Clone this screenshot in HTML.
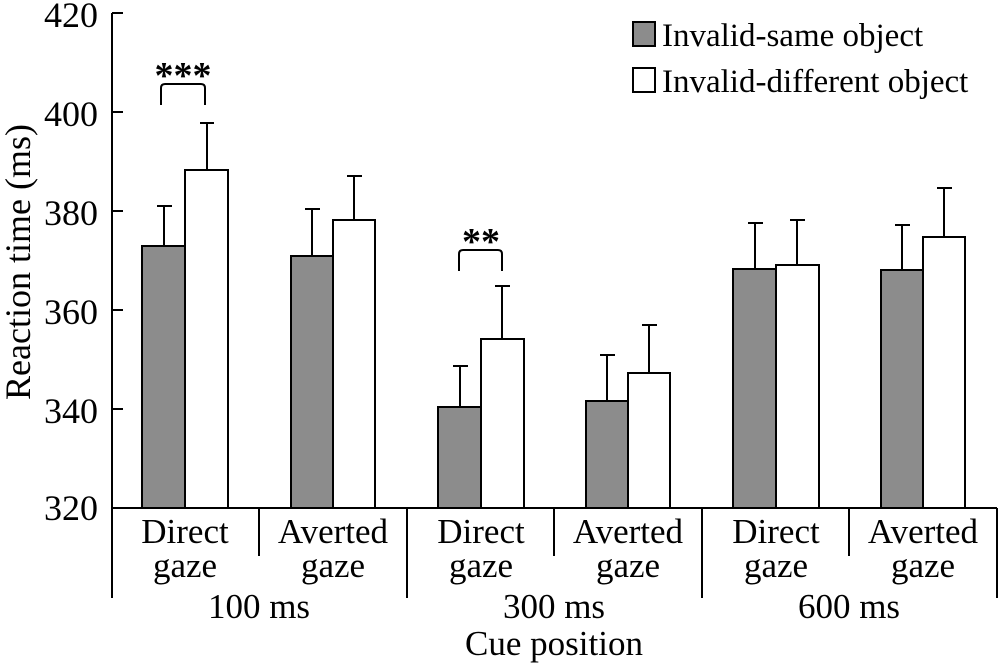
<!DOCTYPE html>
<html><head><meta charset="utf-8"><style>body{margin:0;background:#fff}svg{display:block}</style></head><body>
<svg width="1000" height="666" viewBox="0 0 1000 666" font-family="Liberation Serif, serif" fill="#000">
<g stroke="#000" stroke-width="2" fill="none">
<line x1="112" y1="13" x2="112" y2="598"/>
<line x1="112" y1="13" x2="123" y2="13"/>
<line x1="112" y1="112" x2="123" y2="112"/>
<line x1="112" y1="211" x2="123" y2="211"/>
<line x1="112" y1="310" x2="123" y2="310"/>
<line x1="112" y1="409" x2="123" y2="409"/>
<line x1="112" y1="508" x2="997" y2="508"/>
<line x1="259" y1="508" x2="259" y2="556"/>
<line x1="407" y1="508" x2="407" y2="598"/>
<line x1="554" y1="508" x2="554" y2="556"/>
<line x1="702" y1="508" x2="702" y2="598"/>
<line x1="849" y1="508" x2="849" y2="556"/>
<line x1="997" y1="508" x2="997" y2="598"/>
</g>
<g font-size="36" text-anchor="end">
<text x="98" y="27">420</text><text x="98" y="126">400</text><text x="98" y="225">380</text><text x="98" y="324">360</text><text x="98" y="423">340</text><text x="98" y="520">320</text>
</g>
<text transform="translate(30,262) rotate(-90)" font-size="36" text-anchor="middle">Reaction time (ms)</text>
<g stroke="#000" stroke-width="2">
<line x1="164" y1="246" x2="164" y2="206"/><line x1="157" y1="206" x2="172" y2="206"/>
<rect x="142" y="246" width="43" height="262" fill="#8c8c8c"/>
<line x1="207" y1="170" x2="207" y2="123"/><line x1="200" y1="123" x2="214" y2="123"/>
<rect x="185" y="170" width="43" height="338" fill="#fff"/>

<line x1="312" y1="256" x2="312" y2="209"/><line x1="305" y1="209" x2="320" y2="209"/>
<rect x="291" y="256" width="42" height="252" fill="#8c8c8c"/>
<line x1="354" y1="220" x2="354" y2="176"/><line x1="347" y1="176" x2="362" y2="176"/>
<rect x="333" y="220" width="42" height="288" fill="#fff"/>

<line x1="460" y1="407" x2="460" y2="366"/><line x1="453" y1="366" x2="468" y2="366"/>
<rect x="438" y="407" width="43" height="101" fill="#8c8c8c"/>
<line x1="502" y1="339" x2="502" y2="286"/><line x1="495" y1="286" x2="510" y2="286"/>
<rect x="481" y="339" width="43" height="169" fill="#fff"/>

<line x1="607" y1="401" x2="607" y2="355"/><line x1="600" y1="355" x2="615" y2="355"/>
<rect x="586" y="401" width="42" height="107" fill="#8c8c8c"/>
<line x1="649" y1="373" x2="649" y2="325"/><line x1="642" y1="325" x2="657" y2="325"/>
<rect x="628" y="373" width="42" height="135" fill="#fff"/>

<line x1="755" y1="269" x2="755" y2="223"/><line x1="748" y1="223" x2="763" y2="223"/>
<rect x="733" y="269" width="43" height="239" fill="#8c8c8c"/>
<line x1="797" y1="265" x2="797" y2="220"/><line x1="790" y1="220" x2="805" y2="220"/>
<rect x="776" y="265" width="43" height="243" fill="#fff"/>

<line x1="902" y1="270" x2="902" y2="225"/><line x1="895" y1="225" x2="910" y2="225"/>
<rect x="881" y="270" width="42" height="238" fill="#8c8c8c"/>
<line x1="944" y1="237" x2="944" y2="188"/><line x1="937" y1="188" x2="952" y2="188"/>
<rect x="923" y="237" width="42" height="271" fill="#fff"/>

<path d="M161 105 V88 Q161 84 165 84 H201 Q205 84 205 88 V105" fill="none"/>
<path d="M459 271 V254 Q459 250 463 250 H498 Q502 250 502 254 V271" fill="none"/>
<rect x="633" y="22" width="22" height="24" fill="#8c8c8c"/>
<rect x="633" y="68" width="22" height="24" fill="#fff"/>
</g>
<g font-size="38" font-weight="bold" text-anchor="middle">
<text x="183" y="88">***</text><text x="481" y="254">**</text>
</g>
<g font-size="33">
<text x="662" y="46">Invalid-same object</text>
<text x="662" y="92">Invalid-different object</text>
</g>
<g font-size="35" text-anchor="middle">
<text x="185" y="543">Direct</text><text x="185" y="577">gaze</text>
<text x="333" y="543">Averted</text><text x="333" y="577">gaze</text>
<text x="481" y="543">Direct</text><text x="481" y="577">gaze</text>
<text x="628" y="543">Averted</text><text x="628" y="577">gaze</text>
<text x="776" y="543">Direct</text><text x="776" y="577">gaze</text>
<text x="923" y="543">Averted</text><text x="923" y="577">gaze</text>
<text x="259" y="618">100 ms</text>
<text x="554" y="618">300 ms</text>
<text x="849" y="618">600 ms</text>
<text x="554" y="655">Cue position</text>
</g>
</svg>
</body></html>
